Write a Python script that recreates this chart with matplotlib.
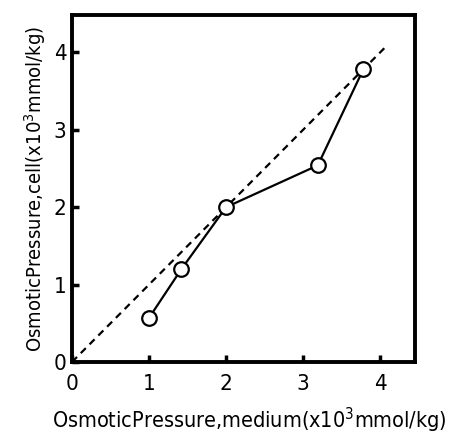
import matplotlib
matplotlib.use("Agg")
import matplotlib.pyplot as plt

# medium vs cell osmotic pressure, x10^3 mmol/kg
medium = [1.0, 1.42, 2.0, 3.19, 3.78]
cell = [0.57, 1.2, 2.0, 2.54, 3.78]
# y = x reference line
ref = [0.0, 4.07]
ticks = [0, 1, 2, 3, 4]

plt.rcParams["font.family"] = ["DejaVu Sans"]
plt.rcParams["font.stretch"] = "condensed"
plt.rcParams["mathtext.default"] = "regular"

fig = plt.figure(figsize=(4.5, 4.33), dpi=100)
ax = fig.add_axes([0.16, 0.164, 0.762, 0.801])

ax.plot(ref, ref, color="black", linestyle=(0, (3.2, 2.4)), linewidth=1.6)
ax.plot(medium, cell, color="black", linewidth=1.6, marker="o",
        markersize=10.5, markerfacecolor="white", markeredgecolor="black",
        markeredgewidth=1.6)

ax.set_xlim(0, 4.45)
ax.set_ylim(0, 4.48)
ax.set_xticks(ticks)
ax.set_yticks(ticks)
ax.tick_params(direction="in", length=5, width=2.5, labelsize=16)
ax.tick_params(axis="x", pad=9)
ax.tick_params(axis="y", pad=4)
for s in ax.spines.values():
    s.set_linewidth(2.8)

ax.set_xlabel("OsmoticPressure,medium(x10$^3$mmol/kg)", fontsize=15.5, labelpad=4)
ax.set_ylabel("OsmoticPressure,cell(x10$^3$mmol/kg)", fontsize=14.5, labelpad=4)
ax.xaxis.set_label_coords(0.516, -0.125)

fig.savefig("out.png", dpi=100)
